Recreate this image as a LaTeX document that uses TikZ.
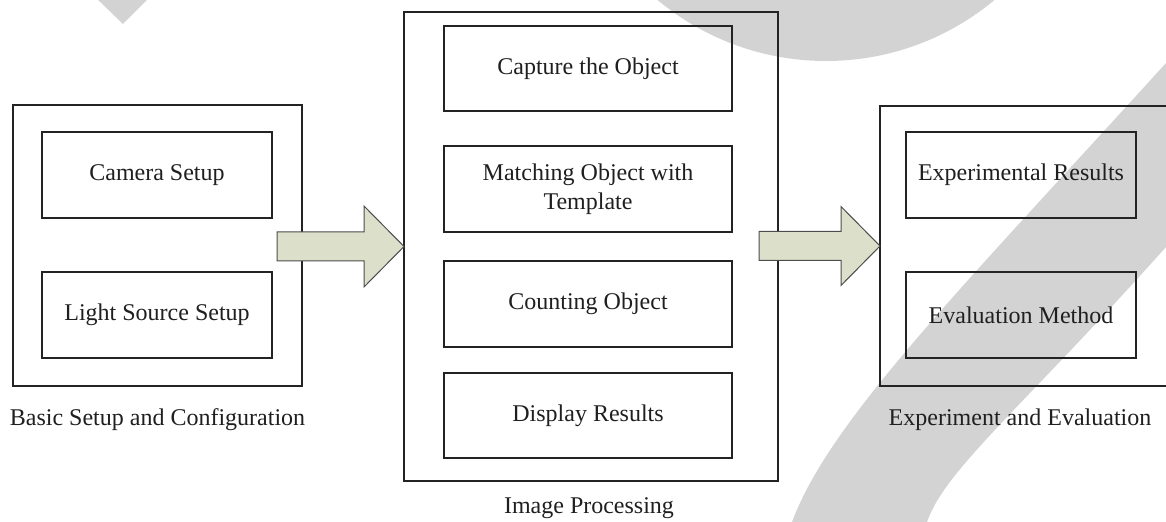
\documentclass[tikz,border=0pt]{standalone}
\usepackage{fontspec}
\setmainfont{Liberation Serif}
\usetikzlibrary{fit,calc}
\definecolor{wm}{RGB}{211,211,211}
\definecolor{arrowfill}{RGB}{220,224,202}
\definecolor{linec}{RGB}{35,35,35}
\begin{document}
\begin{tikzpicture}[x=0.5pt,y=-0.5pt,
  box/.style={draw=linec, line width=0.7pt, inner sep=0pt, outer sep=0pt,
    align=center, font=\fontsize{12}{14.3}\selectfont, text=black!88,
    minimum width=115pt, minimum height=43pt},
  widebox/.style={box, minimum width=144pt},
  outerbox/.style={draw=linec, line width=0.65pt, inner sep=0pt, outer sep=0pt},
  lbl/.style={font=\fontsize{12}{14.3}\selectfont, text=black!88, inner sep=0pt},
  blockarr/.style={draw=black!70, line width=0.5pt, fill=arrowfill, line join=miter},
  watermark/.style={fill=wm, draw=none}]
\clip (0,0) rectangle (1166,522);
% background watermark shapes
\fill[watermark] (93,-5) -- (152,-5) -- (123,24) -- cycle;
\fill[watermark] (826,-202) circle[radius=263];
\fill[watermark] (1200,22) -- (1166,63) .. controls (960,290) and (830,420) .. (792,522)
  -- (790,530) -- (925,530) -- (927,522) .. controls (945,470) and (1020,410) .. (1166,247)
  -- (1200,207) -- cycle;
% left group
\node[outerbox, fit={(13,105) (302,386)}] (basic) {};
\node[box] (camera) at (157,175) {Camera Setup};
\node[box] (light) at (157,315) {Light Source Setup};
\node[lbl] (basiclbl) at (157.5,420) {Basic Setup and Configuration};
% middle group
\node[outerbox, fit={(404,12) (778,481)}] (imgproc) {};
\node[widebox, minimum height=42.5pt] (capture) at (588,68.5) {Capture the Object};
\node[widebox] (matching) at (588,189) {Matching Object with\\Template};
\node[widebox] (counting) at (588,304) {Counting Object};
\node[widebox, minimum height=42.5pt] (display) at (588,415.5) {Display Results};
\node[lbl] (imglbl) at (589,508) {Image Processing};
% right group
\node[outerbox, fit={(880,106) (1172,386)}] (exper) {};
\node[box] (results) at (1021,175) {Experimental Results};
\node[box] (evalm) at (1021,315) {Evaluation Method};
\node[lbl] (explbl) at (1020,420) {Experiment and Evaluation};
% block arrows
\draw[blockarr, shift={(imgproc.west)}] (-127,-14.5) -- (-40,-14.5) -- (-40,-40.5) -- (0,0)
  -- (-40,40.5) -- (-40,14.5) -- (-127,14.5) -- cycle;
\draw[blockarr, shift={(exper.west)}] (-121,-14.5) -- (-39,-14.5) -- (-39,-39.5) -- (0,0)
  -- (-39,39.5) -- (-39,14.5) -- (-121,14.5) -- cycle;
\end{tikzpicture}
\end{document}
